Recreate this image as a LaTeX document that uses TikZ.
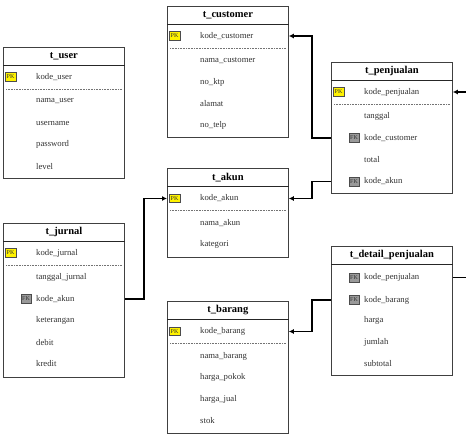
\documentclass[tikz,border=0pt]{standalone}
\usepackage{fontspec}
\setmainfont{Liberation Serif}
\usetikzlibrary{arrows.meta,calc}
\tikzset{
  tblbox/.style={draw=black!75, line width=0.8pt, minimum width=121pt, inner sep=0pt, fill=white},
  tbltitle/.style={minimum width=121pt, minimum height=18pt, inner sep=0pt, font=\fontsize{10.5}{12}\selectfont\bfseries},
  titleline/.style={draw=black!85, line width=0.8pt},
  fieldtxt/.style={inner sep=0pt, text=black!80, font=\fontsize{8.7}{10}\selectfont},
  pkbadge/.style={draw=black!70, fill=yellow, line width=0.5pt, minimum width=11pt, minimum height=8.5pt, inner sep=0pt, text=black!80, font=\fontsize{6}{6}\selectfont},
  fkbadge/.style={draw=black!70, fill=black!40, line width=0.5pt, minimum width=10pt, minimum height=9pt, inner sep=0pt, text=black!80, font=\fontsize{6}{6}\selectfont},
  sepline/.style={draw=black!55, line width=0.5pt, dash pattern=on 1pt off 0.6pt},
  conn/.style={draw=black, line width=1.5pt, -{Latex[length=5pt,width=5pt]}}
}
% table: name, x, y, height, title
\newcommand\ertable[5]{%
  \node[tblbox, minimum height=#4pt, anchor=north west] (#1) at (#2,#3) {};
  \node[tbltitle, anchor=north] (#1-t) at (#1.north) {#5};
  \draw[titleline] (#1-t.south west) -- (#1-t.south east);
}
% field: node name, table, dy, text
\newcommand\erfield[4]{%
  \node[fieldtxt, anchor=west] (#1) at ($(#2.north west)+(33,#3)$) {#4};
}
\newcommand\erpk[4]{%
  \erfield{#1}{#2}{#3}{#4}%
  \node[pkbadge] (#1-b) at ($(#2.north west)+(7.5,#3)$) {PK};
  \draw[sepline] ($(#2.north west)+(3,#3+12)$) -- ($(#2.north east)+(-3,#3+12)$);
}
\newcommand\erfk[4]{%
  \erfield{#1}{#2}{#3}{#4}%
  \node[fkbadge] (#1-b) at ($(#2.north west)+(23,#3)$) {FK};
}
\begin{document}
\begin{tikzpicture}[x=1pt,y=-1pt]
\useasboundingbox (0,0) rectangle (466,438);
\clip (0,0) rectangle (466,438);

% t_user
\ertable{user}{3}{47}{131}{t\_user}
\erpk{user-kode}{user}{30}{kode\_user}
\erfield{user-nama}{user}{54.5}{nama\_user}
\erfield{user-un}{user}{76}{username}
\erfield{user-pw}{user}{97.5}{password}
\erfield{user-lv}{user}{119.5}{level}

% t_customer
\ertable{cust}{167}{6}{131}{t\_customer}
\erpk{cust-kode}{cust}{30}{kode\_customer}
\erfield{cust-nama}{cust}{54.5}{nama\_customer}
\erfield{cust-ktp}{cust}{76}{no\_ktp}
\erfield{cust-al}{cust}{97.5}{alamat}
\erfield{cust-tl}{cust}{119.5}{no\_telp}

% t_penjualan
\ertable{pen}{331}{62}{131}{t\_penjualan}
\erpk{pen-kode}{pen}{30}{kode\_penjualan}
\erfield{pen-tgl}{pen}{54.5}{tanggal}
\erfk{pen-kc}{pen}{76}{kode\_customer}
\erfield{pen-tot}{pen}{97.5}{total}
\erfk{pen-ka}{pen}{119.5}{kode\_akun}

% t_akun
\ertable{akun}{167}{168}{89}{t\_akun}
\erpk{akun-kode}{akun}{30.5}{kode\_akun}
\erfield{akun-nama}{akun}{55}{nama\_akun}
\erfield{akun-kat}{akun}{76.5}{kategori}

% t_jurnal
\ertable{jur}{3}{223}{154}{t\_jurnal}
\erpk{jur-kode}{jur}{30}{kode\_jurnal}
\erfield{jur-tgl}{jur}{54.5}{tanggal\_jurnal}
\erfk{jur-ka}{jur}{76}{kode\_akun}
\erfield{jur-ket}{jur}{97.5}{keterangan}
\erfield{jur-deb}{jur}{119.5}{debit}
\erfield{jur-kre}{jur}{141}{kredit}

% t_barang
\ertable{brg}{167}{301}{132}{t\_barang}
\erpk{brg-kode}{brg}{30.5}{kode\_barang}
\erfield{brg-nama}{brg}{55}{nama\_barang}
\erfield{brg-hp}{brg}{76.5}{harga\_pokok}
\erfield{brg-hj}{brg}{98}{harga\_jual}
\erfield{brg-stok}{brg}{120}{stok}

% t_detail_penjualan
\ertable{det}{331}{246}{129}{t\_detail\_penjualan}
\erfk{det-kp}{det}{31.5}{kode\_penjualan}
\erfk{det-kb}{det}{54}{kode\_barang}
\erfield{det-hrg}{det}{74.5}{harga}
\erfield{det-jml}{det}{96}{jumlah}
\erfield{det-sub}{det}{118}{subtotal}

% bend columns
\coordinate (colA) at (312,0);
\coordinate (colB) at (144,0);
\coordinate (colC) at (478,0);

% connectors
\draw[conn] (pen.west |- pen-kc) -- (colA |- pen-kc) |- (cust.east |- cust-kode);
\draw[conn] (pen.west |- pen-ka) -- (colA |- pen-ka) |- (akun.east |- akun-kode);
\draw[conn] (det.west |- det-kb) -- (colA |- det-kb) |- (brg.east |- brg-kode);
\draw[conn] (jur.east |- jur-ka) -- (colB |- jur-ka) |- (akun.west |- akun-kode);
\draw[conn] (det.east |- det-kp) -- (colC |- det-kp) |- (pen.east |- pen-kode);
\end{tikzpicture}
\end{document}
